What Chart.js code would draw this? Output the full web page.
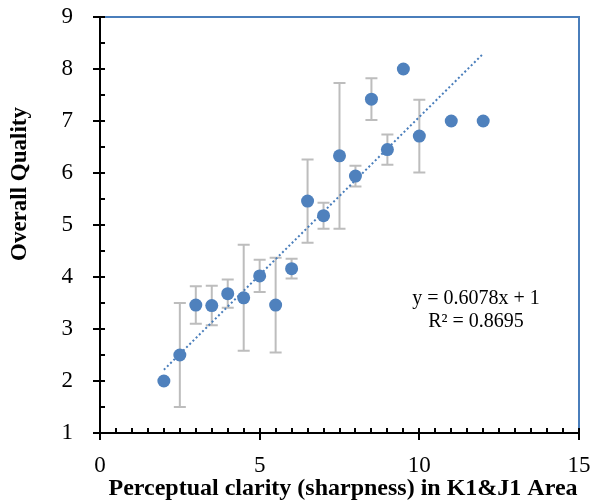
<!DOCTYPE html>
<html>
<head>
<meta charset="utf-8">
<script src="https://cdn.jsdelivr.net/npm/chart.js@4.4.1/dist/chart.umd.min.js"></script>
<style>
  html, body { margin: 0; padding: 0; background: #fff; }
  #wrap { width: 590px; height: 501px; }
</style>
</head>
<body>
<div id="wrap"><canvas id="quality-chart"></canvas></div>
<script>
// values
const clarity = [2, 2.5, 3, 3.5, 4, 4.5, 5, 5.5, 6, 6.5, 7, 7.5, 8, 8.5, 9, 9.5, 10, 11, 12];
const quality = [2.0, 2.5, 3.46, 3.45, 3.68, 3.6, 4.02, 3.46, 4.16, 5.46, 5.18, 6.33, 5.94, 7.42, 6.45, 8.0, 6.71, 7.0, 7.0];
const qualityErr = [0, 1.0, 0.36, 0.38, 0.27, 1.02, 0.31, 0.91, 0.19, 0.8, 0.25, 1.4, 0.2, 0.4, 0.29, 0, 0.7, 0, 0];

// linear trendline y = 0.6078x + 1
const trendSlope = 0.6078;
const trendIntercept = 1;
const trendX = [2, 12];

const xTicks = [0, 5, 10, 15];
const yTicks = [1, 2, 3, 4, 5, 6, 7, 8, 9];
const equationLines = ["y = 0.6078x + 1", "R\u00b2 = 0.8695"];

const SERIF = "'Liberation Serif', 'Times New Roman', serif";
const BLUE = "#4f81bd";

// keep the plot area where the reference has it
function noEdgePadding(s) {
  s.paddingTop = 0;
  s.paddingBottom = 0;
  s.paddingLeft = 0;
  s.paddingRight = 0;
}

const extrasPlugin = {
  id: "extras",
  beforeDatasetsDraw(chart) {
    const ctx = chart.ctx;
    const xs = chart.scales.x, ys = chart.scales.y;
    ctx.save();
    ctx.strokeStyle = "#bdbdbd";
    ctx.lineWidth = 2;
    clarity.forEach((x, i) => {
      const e = qualityErr[i];
      if (!e) return;
      const px = xs.getPixelForValue(x);
      const top = ys.getPixelForValue(quality[i] + e);
      const bot = ys.getPixelForValue(quality[i] - e);
      ctx.beginPath();
      ctx.moveTo(px, top); ctx.lineTo(px, bot);
      ctx.moveTo(px - 6, top); ctx.lineTo(px + 6, top);
      ctx.moveTo(px - 6, bot); ctx.lineTo(px + 6, bot);
      ctx.stroke();
    });
    ctx.restore();
  },
  afterDraw(chart) {
    const ctx = chart.ctx;
    const a = chart.chartArea;
    const xs = chart.scales.x, ys = chart.scales.y;
    ctx.save();

    // blue frame on top and right
    ctx.strokeStyle = "#4a7ebb";
    ctx.lineWidth = 2;
    ctx.beginPath();
    ctx.moveTo(a.left, a.top); ctx.lineTo(a.right, a.top); ctx.lineTo(a.right, a.bottom);
    ctx.stroke();

    // inner (minor) tick marks
    ctx.strokeStyle = "#000";
    ctx.lineWidth = 2;
    ctx.beginPath();
    for (let v = xs.min; v <= xs.max; v += 0.5) {
      const px = Math.round(xs.getPixelForValue(v));
      ctx.moveTo(px, a.bottom); ctx.lineTo(px, a.bottom - 5);
    }
    for (let v = ys.min; v <= ys.max; v += 0.5) {
      const py = Math.round(ys.getPixelForValue(v));
      ctx.moveTo(a.left, py); ctx.lineTo(a.left + 5, py);
    }
    ctx.stroke();

    // trendline label
    ctx.fillStyle = "#000";
    ctx.font = "20px " + SERIF;
    ctx.textAlign = "center";
    ctx.textBaseline = "middle";
    ctx.fillText(equationLines[0], 476, 299);
    ctx.fillText(equationLines[1], 476, 322);

    // axis titles
    ctx.font = "bold 24px " + SERIF;
    ctx.fillText("Perceptual clarity (sharpness) in K1&J1 Area", 343, 489);
    ctx.font = "bold 23px " + SERIF;
    ctx.translate(20, 184);
    ctx.rotate(-Math.PI / 2);
    ctx.fillText("Overall Quality", 0, 0);
    ctx.restore();
  }
};

new Chart(document.getElementById("quality-chart"), {
  type: "scatter",
  data: {
    datasets: [
      {
        label: "Overall Quality",
        data: clarity.map((x, i) => ({ x: x, y: quality[i] })),
        backgroundColor: BLUE,
        borderColor: BLUE,
        borderWidth: 0,
        pointRadius: 6.5,
        order: 1,
      },
      {
        label: "Linear trend",
        type: "line",
        data: trendX.map((x) => ({ x: x, y: trendSlope * x + trendIntercept })),
        borderColor: "#4a7ebb",
        borderWidth: 2,
        borderDash: [2, 2.5],
        pointRadius: 0,
        fill: false,
        order: 2,
      },
    ],
  },
  options: {
    responsive: true,
    maintainAspectRatio: false,
    animation: false,
    layout: {
      padding: { top: 17, right: 11, left: 0, bottom: 0 },
    },
    plugins: {
      legend: { display: false },
      tooltip: { enabled: false },
    },
    scales: {
      x: {
        type: "linear",
        min: 0,
        max: 15,
        afterBuildTicks: (s) => { s.ticks = xTicks.map((v) => ({ value: v })); },
        afterFit: (s) => { s.height = 68; noEdgePadding(s); },
        ticks: {
          color: "#000",
          padding: 12,
          font: { family: SERIF, size: 23 },
          maxRotation: 0,
        },
        grid: {
          drawOnChartArea: false,
          drawTicks: true,
          tickLength: 7,
          color: "#000",
          lineWidth: 2,
        },
        border: { color: "#000", width: 2 },
      },
      y: {
        type: "linear",
        min: 1,
        max: 9,
        afterBuildTicks: (s) => { s.ticks = yTicks.map((v) => ({ value: v })); },
        afterFit: (s) => { s.width = 100; noEdgePadding(s); },
        ticks: {
          color: "#000",
          padding: 20,
          font: { family: SERIF, size: 23 },
        },
        grid: {
          drawOnChartArea: false,
          drawTicks: true,
          tickLength: 7,
          color: "#000",
          lineWidth: 2,
        },
        border: { color: "#000", width: 2 },
      },
    },
  },
  plugins: [extrasPlugin],
});
</script>
</body>
</html>
